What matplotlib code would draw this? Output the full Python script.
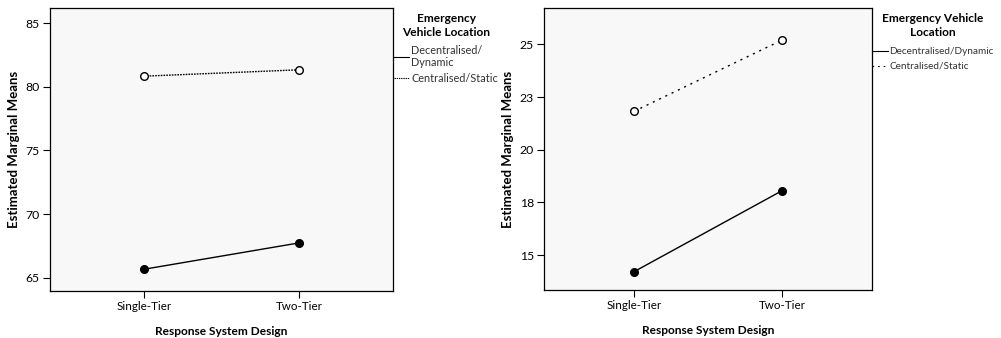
import matplotlib
matplotlib.use("Agg")
import matplotlib.pyplot as plt
from matplotlib.lines import Line2D

plt.rcParams['font.family'] = ['Lato', 'DejaVu Sans']

categories = ["Single-Tier", "Two-Tier"]
series_names = ["Decentralised/Dynamic", "Centralised/Static"]

left_decentral = [65.66, 67.73]
left_central = [80.84, 81.34]
left_yticks = [65, 70, 75, 80, 85]
left_yticklabels = ["65", "70", "75", "80", "85"]

right_decentral = [14.21, 18.05]
right_central = [21.82, 25.2]
right_yticks = [15, 17.5, 20, 22.5, 25]
right_yticklabels = ["15", "18", "20", "23", "25"]

W, H = 1001, 338
fig = plt.figure(figsize=(W / 100, H / 100), dpi=100)
fig.patch.set_facecolor("white")

def fx(px):
    return px / W

def fy(py):
    return 1 - py / H

def make_ax(rect, dec, cen, yticks, yticklabels, ylim, dash):
    ax = fig.add_axes(rect)
    ax.set_facecolor("#f8f8f8")
    x = list(range(len(categories)))
    ax.plot(x, dec, color="black", lw=1.0, marker="o", ms=5.5,
            mfc="black", mec="black", zorder=3)
    ax.plot(x, cen, color="black", lw=1.0, ls=dash, marker="o", ms=5.5,
            mfc="white", mec="black", mew=1.0, zorder=3)
    ax.set_xlim(-0.607, 1.607)
    ax.set_ylim(*ylim)
    ax.set_xticks(x)
    ax.set_xticklabels(categories, fontsize=8.4)
    ax.set_yticks(yticks)
    ax.set_yticklabels(yticklabels, fontsize=8.8)
    ax.tick_params(direction="out", length=5, width=0.8, color="black", pad=2.5)
    for s in ax.spines.values():
        s.set_color("black")
        s.set_linewidth(0.9)
    ax.set_xlabel("Response System Design", fontsize=8.6, fontweight="bold", labelpad=10)
    ax.set_ylabel("Estimated Marginal Means", fontsize=9.5, fontweight="bold", labelpad=4)
    return ax

ax1 = make_ax([fx(50), fy(291), fx(343), 283 / H], left_decentral, left_central,
              left_yticks, left_yticklabels, (63.95, 86.2), (0, (1.2, 0.8)))
ax2 = make_ax([fx(544.3), fy(290), fx(327.4), 281.7 / H], right_decentral, right_central,
              right_yticks, right_yticklabels, (13.34, 26.71), (0, (1.5, 3.5)))

TITLE_FS = 8.6

# Left legend
fig.text(fx(446), fy(19), "Emergency", ha="center", va="center", fontsize=TITLE_FS, fontweight="bold")
fig.text(fx(446), fy(32), "Vehicle Location", ha="center", va="center", fontsize=TITLE_FS, fontweight="bold")
fig.add_artist(Line2D([fx(394), fx(409)], [fy(57), fy(57)], color="black", lw=0.8))
fig.text(fx(411), fy(51), "Decentralised/", ha="left", va="center", fontsize=7.8, color="#333333")
fig.text(fx(411), fy(63), "Dynamic", ha="left", va="center", fontsize=7.8, color="#333333")
fig.add_artist(Line2D([fx(394), fx(409)], [fy(78), fy(78)], color="black", lw=0.8, ls=(0, (1.2, 0.8))))
fig.text(fx(411), fy(78), "Centralised/Static", ha="left", va="center", fontsize=7.8, color="#333333")

# Right legend
fig.text(fx(932.7), fy(19), "Emergency Vehicle", ha="center", va="center", fontsize=TITLE_FS, fontweight="bold")
fig.text(fx(932.7), fy(32), "Location", ha="center", va="center", fontsize=TITLE_FS, fontweight="bold")
fig.add_artist(Line2D([fx(872), fx(888)], [fy(51), fy(51)], color="black", lw=0.8))
fig.text(fx(889), fy(51), "Decentralised/Dynamic", ha="left", va="center", fontsize=7.2, color="#333333")
fig.add_artist(Line2D([fx(872), fx(888)], [fy(66), fy(66)], color="black", lw=0.8, ls=(0, (1.5, 3.5))))
fig.text(fx(889), fy(66), "Centralised/Static", ha="left", va="center", fontsize=7.2, color="#333333")

fig.savefig("out.png", dpi=100, facecolor="white")
